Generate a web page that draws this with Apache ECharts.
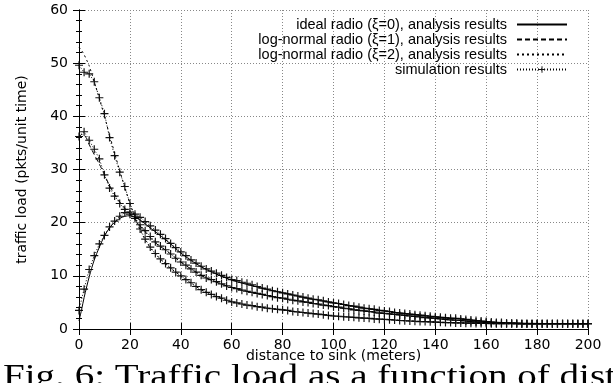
<!DOCTYPE html>
<html>
<head>
<meta charset="utf-8">
<script src="https://cdn.jsdelivr.net/npm/echarts@6/dist/echarts.min.js"></script>
<style>
  html, body { margin: 0; padding: 0; background: #fff; }
  #chart { width: 613px; height: 383px; }
</style>
</head>
<body>
<div id="chart"></div>
<script>
// distances (m) where the analysis curves are read
const anaDist = [0, 1, 2, 3, 4, 6, 8, 10, 12, 14, 16, 18, 20, 22, 24, 26, 28, 30, 35, 40,
  45, 50, 60, 70, 80, 90, 100, 110, 120, 130, 140, 150, 160, 170, 180, 190, 200];

const anaIdeal = [1.5, 3.6, 5.9, 7.9, 9.8, 13.0, 15.4, 17.5, 19.0, 20.1, 20.8, 21.2, 21.3, 21.0, 20.5, 19.8, 19.0, 18.3, 16.4, 14.3,
  12.6, 11.2, 9.2, 7.9, 6.8, 5.8, 4.9, 4.1, 3.4, 2.8, 2.3, 1.9, 1.4, 1.15, 1.05, 1.0, 1.0];
const anaLog1 = [36.0, 36.6, 36.5, 35.8, 34.7, 32.8, 31.0, 29.0, 27.0, 25.3, 23.9, 22.7, 21.7, 20.6, 19.4, 18.3, 17.2, 16.2, 14.5, 12.6,
  11.0, 9.6, 7.8, 6.7, 5.8, 5.0, 4.2, 3.5, 2.95, 2.45, 2.0, 1.6, 1.2, 1.05, 1.0, 1.0, 1.0];
const anaLog2 = [53.0, 52.4, 51.6, 50.6, 49.5, 46.5, 43.3, 40.0, 36.5, 33.1, 29.8, 26.6, 23.6, 21.0, 18.6, 16.8, 15.3, 14.1, 11.8, 10.0,
  8.3, 6.9, 5.1, 4.2, 3.6, 3.0, 2.45, 2.1, 1.8, 1.5, 1.3, 1.15, 1.05, 1.0, 1.0, 1.0, 1.0];

// simulation samples, every 2 m
const simDist = [0, 2, 4, 6, 8, 10, 12, 14, 16, 18, 20, 22, 24, 26, 28, 30, 32, 34, 36, 38,
  40, 42, 44, 46, 48, 50, 52, 54, 56, 58, 60, 62, 64, 66, 68, 70, 72, 74, 76, 78,
  80, 82, 84, 86, 88, 90, 92, 94, 96, 98, 100, 102, 104, 106, 108, 110, 112, 114, 116, 118,
  120, 122, 124, 126, 128, 130, 132, 134, 136, 138, 140, 142, 144, 146, 148, 150, 152, 154, 156, 158,
  160, 162, 164, 166, 168, 170, 172, 174, 176, 178, 180, 182, 184, 186, 188, 190, 192, 194, 196, 198, 200];

const simIdeal = [3.5, 7.5, 11.2, 13.8, 16.0, 17.6, 19.2, 20.3, 21.2, 21.9, 22.0, 21.6, 21.0, 20.2, 19.4, 18.6, 17.8, 17.0, 16.1, 15.3,
  14.5, 13.8, 13.0, 12.4, 11.8, 11.3, 10.9, 10.5, 10.1, 9.7, 9.3, 9.1, 8.8, 8.6, 8.3, 8.0, 7.7, 7.5, 7.2, 7.0,
  6.8, 6.6, 6.4, 6.2, 6.0, 5.8, 5.6, 5.5, 5.3, 5.1, 4.9, 4.8, 4.6, 4.4, 4.3, 4.1, 3.9, 3.8, 3.7, 3.5,
  3.4, 3.3, 3.1, 3.0, 2.9, 2.8, 2.7, 2.6, 2.5, 2.4, 2.3, 2.2, 2.1, 2.0, 2.0, 1.9, 1.8, 1.7, 1.6, 1.5,
  1.4, 1.3, 1.2, 1.2, 1.1, 1.1, 1.1, 1.0, 1.0, 1.0, 1.0, 1.0, 1.0, 1.0, 1.0, 1.0, 1.0, 1.0, 1.0, 1.0, 1.0];
const simLog1 = [36.2, 37.1, 35.5, 33.8, 32.0, 29.0, 26.5, 25.0, 23.6, 22.5, 21.6, 20.8, 19.6, 18.5, 17.4, 16.4, 15.6, 14.9, 14.1, 13.3,
  12.6, 12.0, 11.3, 10.7, 10.1, 9.6, 9.3, 8.9, 8.5, 8.1, 7.8, 7.6, 7.3, 7.1, 6.9, 6.7, 6.5, 6.3, 6.1, 5.9,
  5.8, 5.6, 5.4, 5.3, 5.1, 5.0, 4.8, 4.7, 4.5, 4.4, 4.2, 4.1, 3.9, 3.8, 3.6, 3.5, 3.4, 3.3, 3.2, 3.0,
  2.95, 2.85, 2.75, 2.65, 2.55, 2.45, 2.35, 2.25, 2.15, 2.1, 2.0, 1.9, 1.8, 1.7, 1.65, 1.6, 1.5, 1.4, 1.3, 1.25,
  1.2, 1.15, 1.1, 1.1, 1.05, 1.05, 1.0, 1.0, 1.0, 1.0, 1.0, 1.0, 1.0, 1.0, 1.0, 1.0, 1.0, 1.0, 1.0, 1.0, 1.0];
const simLog2 = [49.6, 48.3, 48.0, 46.5, 43.5, 40.5, 36.0, 32.6, 29.5, 26.8, 23.6, 21.2, 18.8, 16.9, 15.4, 14.2, 13.2, 12.3, 11.5, 10.7,
  10.0, 9.3, 8.7, 8.0, 7.4, 6.9, 6.5, 6.1, 5.8, 5.4, 5.1, 4.9, 4.7, 4.5, 4.4, 4.2, 4.1, 3.9, 3.8, 3.7,
  3.6, 3.5, 3.3, 3.2, 3.1, 3.0, 2.9, 2.8, 2.7, 2.55, 2.45, 2.4, 2.3, 2.25, 2.2, 2.1, 2.05, 2.0, 1.9, 1.85,
  1.8, 1.75, 1.7, 1.6, 1.55, 1.5, 1.45, 1.4, 1.4, 1.35, 1.3, 1.25, 1.2, 1.2, 1.15, 1.15, 1.1, 1.1, 1.05, 1.05,
  1.05, 1.0, 1.0, 1.0, 1.0, 1.0, 1.0, 1.0, 1.0, 1.0, 1.0, 1.0, 1.0, 1.0, 1.0, 1.0, 1.0, 1.0, 1.0, 1.0, 1.0];

const xTicks = [0, 20, 40, 60, 80, 100, 120, 140, 160, 180, 200];
const yTicks = [0, 10, 20, 30, 40, 50, 60];

const seriesNames = [
  'ideal radio (\u03BE=0), analysis results',
  'log-normal radio (\u03BE=1), analysis results',
  'log-normal radio (\u03BE=2), analysis results',
  'simulation results'
];

const pairs = (xs, ys) => xs.map((x, i) => [x, ys[i]]);

const FONT = 'DejaVu Sans';
const plus = 'path://M3.85,0H5.15V3.85H9V5.15H5.15V9H3.85V5.15H0V3.85H3.85Z';

const chart = echarts.init(document.getElementById('chart'));

function anaSeries(name, xs, ys, dash) {
  return {
    name: name,
    type: 'line',
    data: pairs(xs, ys),
    smooth: 0.3,
    symbol: 'none',
    lineStyle: { color: '#000', width: 1, type: dash },
    itemStyle: { color: '#000' },
    z: 3
  };
}

function simSeries(ys) {
  return {
    name: seriesNames[3],
    type: 'line',
    data: pairs(simDist, ys),
    symbol: plus,
    symbolSize: 8,
    showAllSymbol: true,
    lineStyle: { color: '#000', width: 1, type: [1, 2] },
    itemStyle: { color: '#111' },
    z: 2
  };
}

const option = {
  animation: false,
  backgroundColor: '#fff',
  grid: { left: 79, right: 25, top: 10, bottom: 54 },
  legend: {
    orient: 'vertical',
    right: 40,
    top: 12,
    align: 'right',
    itemWidth: 50,
    itemHeight: 8,
    itemGap: 0,
    selectedMode: false,
    textStyle: {
      fontFamily: 'Liberation Sans', fontSize: 14.5, color: '#000',
      lineHeight: 15, padding: [0, 5, 0, 0]
    },
    data: [
      { name: seriesNames[0], itemStyle: { opacity: 0 } },
      { name: seriesNames[1], itemStyle: { opacity: 0 } },
      { name: seriesNames[2], itemStyle: { opacity: 0 } },
      { name: seriesNames[3] }
    ]
  },
  xAxis: [{
    type: 'value',
    min: 0, max: 200, interval: 20,
    name: 'distance to sink (meters)',
    nameLocation: 'middle',
    nameGap: 20,
    nameMoveOverlap: false,
    nameTextStyle: { fontFamily: FONT, fontSize: 14, color: '#000' },
    axisLine: { lineStyle: { color: '#000', width: 1 } },
    axisTick: { inside: true, length: 6, lineStyle: { color: '#000' } },
    axisLabel: {
      fontFamily: FONT, fontSize: 14, color: '#000', margin: 9,
      formatter: v => xTicks.includes(v) ? String(v) : ''
    },
    splitLine: { show: true, lineStyle: { color: '#888', type: [1, 2], width: 1 } }
  }, {
    type: 'value',
    position: 'top',
    min: 0, max: 200, interval: 20,
    axisLine: { lineStyle: { color: '#000', width: 1 } },
    axisTick: { inside: true, length: 6, lineStyle: { color: '#000' } },
    axisLabel: { show: false },
    splitLine: { show: false }
  }],
  yAxis: [{
    type: 'value',
    min: 0, max: 60, interval: 10,
    name: 'traffic load (pkts/unit time)',
    nameLocation: 'middle',
    nameGap: 50,
    nameTextStyle: { fontFamily: FONT, fontSize: 14, color: '#000' },
    axisLine: { show: true, lineStyle: { color: '#000', width: 1 } },
    axisTick: { inside: true, length: 6, lineStyle: { color: '#000' } },
    minorTick: { show: true, splitNumber: 5, length: 3, lineStyle: { color: '#000' } },
    axisLabel: {
      fontFamily: FONT, fontSize: 14, color: '#000', margin: 11,
      formatter: v => yTicks.includes(v) ? String(v) : ''
    },
    splitLine: { show: true, lineStyle: { color: '#888', type: [1, 2], width: 1 } }
  }, {
    type: 'value',
    position: 'right',
    min: 0, max: 60, interval: 10,
    axisLine: { show: true, lineStyle: { color: '#000', width: 1 } },
    axisTick: { inside: true, length: 6, lineStyle: { color: '#000' } },
    minorTick: { show: true, splitNumber: 5, length: 3, lineStyle: { color: '#000' } },
    axisLabel: { show: false },
    splitLine: { show: false }
  }],
  graphic: [{
    type: 'text',
    x: 3,
    y: 362,
    scaleX: 1.26,
    style: {
      text: 'Fig. 6: Traffic load as a function of distance',
      fontFamily: 'Liberation Serif',
      fontSize: 31,
      fill: '#000'
    }
  }],
  series: [
    anaSeries(seriesNames[0], anaDist, anaIdeal, 'solid'),
    anaSeries(seriesNames[1], anaDist, anaLog1, [5, 3]),
    anaSeries(seriesNames[2], anaDist, anaLog2, [2, 3]),
    simSeries(simIdeal),
    simSeries(simLog1),
    simSeries(simLog2)
  ]
};

chart.setOption(option);
</script>
</body>
</html>
